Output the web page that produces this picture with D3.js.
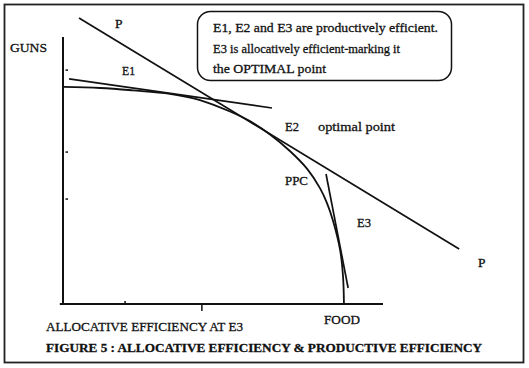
<!DOCTYPE html>
<html>
<head>
<meta charset="utf-8">
<script src="https://cdn.jsdelivr.net/npm/d3@7"></script>
<style>
  body { margin: 0; background: #fff; }
  text { font-family: "Liberation Serif", "Times New Roman", serif; fill: #111; stroke: #111; stroke-width: 0.3; }
</style>
</head>
<body>
<div id="chart"></div>
<script>
// production possibility curve (food, guns)
const ppcFood = [0, 11.6, 21.9, 33.4, 42.8, 52.2, 58.4, 64.7, 70.9, 76.3, 80.3, 82.5, 84.4, 86.6, 87.5, 87.8];
const ppcGuns = [81.3, 80.9, 80.0, 78.7, 76.4, 72.1, 68.5, 63.5, 57.3, 50.6, 43.4, 37.8, 31.1, 20.2, 10.5, 0];

// straight lines: price line P and the tangents at E1 and E3
const priceLine = [[5.0, 107.1], [123.8, 20.6]];
const tangentE1 = [[1.9, 84.3], [65.3, 73.4]];
const tangentE3 = [[82.2, 48.7], [89.1, 6.0]];

const xTicks = [19.4, 43.4];
const yTicks = [87.6, 56.9, 39.3];

const noteLines = [
  "E1, E2 and E3 are productively efficient.",
  "E3 is allocatively efficient-marking it",
  "the OPTIMAL point"
];

const width = 529;
const height = 368;

const svg = d3.select("#chart")
  .append("svg")
  .attr("width", width)
  .attr("height", height);

const x = d3.scaleLinear().domain([0, 100]).range([63, 383]);
const y = d3.scaleLinear().domain([0, 100]).range([304, 37]);

// outer frame
svg.append("rect")
  .attr("x", 4.5).attr("y", 4.5)
  .attr("width", 519).attr("height", 358)
  .attr("fill", "none")
  .attr("stroke", "#222")
  .attr("stroke-width", 1.8);

// axes
svg.append("line")
  .attr("x1", x(0)).attr("x2", x(0))
  .attr("y1", y(100)).attr("y2", y(0) + 1)
  .attr("stroke", "#111").attr("stroke-width", 2);

svg.append("line")
  .attr("x1", x(-1)).attr("x2", x(100))
  .attr("y1", y(0)).attr("y2", y(0))
  .attr("stroke", "#111").attr("stroke-width", 2);

svg.selectAll(".ytick")
  .data(yTicks)
  .enter()
  .append("line")
  .attr("class", "ytick")
  .attr("x1", x(0) + 2.5).attr("x2", x(0) + 5)
  .attr("y1", (d) => y(d)).attr("y2", (d) => y(d))
  .attr("stroke", "#111").attr("stroke-width", 1.5);

svg.selectAll(".xtick")
  .data(xTicks)
  .enter()
  .append("line")
  .attr("class", "xtick")
  .attr("x1", (d) => x(d)).attr("x2", (d) => x(d))
  .attr("y1", (d, i) => (i === 0 ? y(0) - 3 : y(0)))
  .attr("y2", (d, i) => (i === 0 ? y(0) : y(0) + 7))
  .attr("stroke", "#111").attr("stroke-width", 1.5);

// curves
const ppc = ppcFood.map((f, i) => [f, ppcGuns[i]]);

const curve = d3.line()
  .x((d) => x(d[0]))
  .y((d) => y(d[1]))
  .curve(d3.curveCatmullRom.alpha(0.5));

svg.append("path")
  .attr("d", curve(ppc))
  .attr("fill", "none")
  .attr("stroke", "#111")
  .attr("stroke-width", 1.8);

const straight = d3.line()
  .x((d) => x(d[0]))
  .y((d) => y(d[1]));

[priceLine, tangentE1, tangentE3].forEach((seg) => {
  svg.append("path")
    .attr("d", straight(seg))
    .attr("fill", "none")
    .attr("stroke", "#111")
    .attr("stroke-width", 1.7);
});

// labels
function label(txt, px, py, opts = {}) {
  const t = svg.append("text")
    .attr("x", px)
    .attr("y", py)
    .attr("font-size", opts.size || 13.5)
    .attr("font-weight", opts.bold ? "bold" : "normal")
    .text(txt);
  if (opts.w) t.attr("textLength", opts.w).attr("lengthAdjust", "spacingAndGlyphs");
  return t;
}

label("GUNS", 10, 52, { w: 37 });
label("P", 115, 28);
label("E1", 122, 75, { w: 13 });
label("E2", 285, 131, { w: 14 });
label("optimal point", 318, 131, { w: 77 });
label("PPC", 285, 185, { w: 23 });
label("E3", 357, 227, { w: 14 });
label("P", 478, 267);
label("FOOD", 324, 324, { w: 36 });
label("ALLOCATIVE EFFICIENCY AT E3", 46, 331, { w: 197 });
label("FIGURE 5 : ALLOCATIVE EFFICIENCY & PRODUCTIVE EFFICIENCY", 46, 352, { w: 436, bold: true, size: 13 });

// note box
svg.append("rect")
  .attr("x", 197.5).attr("y", 11.5)
  .attr("width", 254).attr("height", 69)
  .attr("rx", 13).attr("ry", 13)
  .attr("fill", "#fff")
  .attr("stroke", "#111")
  .attr("stroke-width", 1.5);

const noteWidths = [225, 187, 113];
noteLines.forEach((line, i) => {
  label(line, 213, 32 + i * 20.5, { w: noteWidths[i] });
});
</script>
</body>
</html>
